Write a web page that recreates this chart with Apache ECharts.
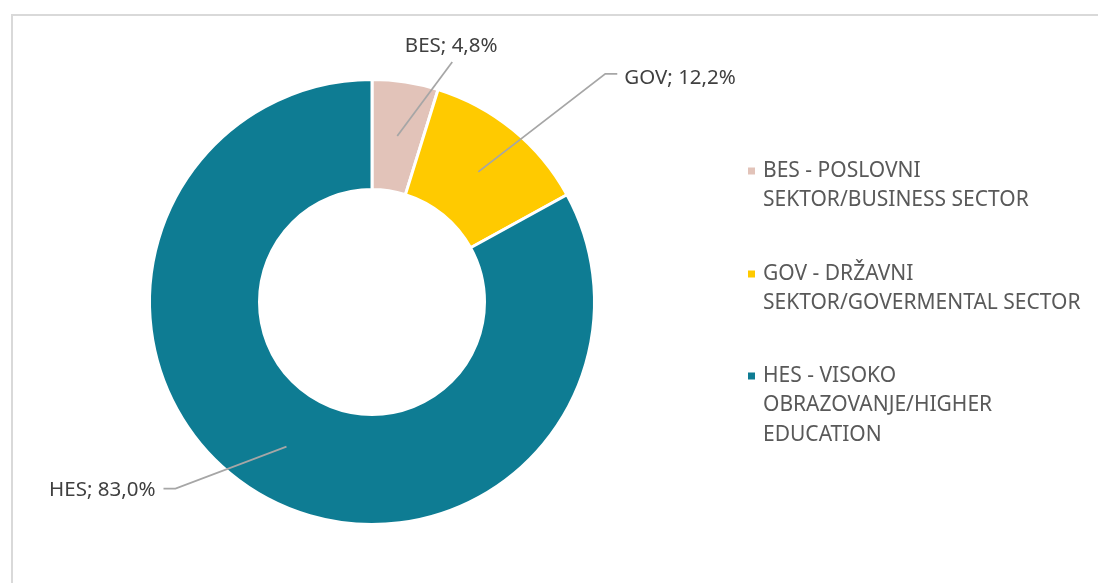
<!DOCTYPE html>
<html><head><meta charset="utf-8">
<script src="https://cdn.jsdelivr.net/npm/echarts@6/dist/echarts.min.js"></script>
<style>html,body{margin:0;padding:0;background:#fff}#c{width:1098px;height:583px}</style>
</head><body><div id="c"></div>
<script>
// ---- data ----
const categories = ['BES', 'GOV', 'HES'];
const legendNames = [
  'BES - POSLOVNI SEKTOR/BUSINESS SECTOR',
  'GOV - DRŽAVNI SEKTOR/GOVERMENTAL SECTOR',
  'HES - VISOKO OBRAZOVANJE/HIGHER EDUCATION'
];
const legendLines = [
  ['BES - POSLOVNI', 'SEKTOR/BUSINESS SECTOR'],
  ['GOV - DRŽAVNI', 'SEKTOR/GOVERMENTAL SECTOR'],
  ['HES - VISOKO', 'OBRAZOVANJE/HIGHER', 'EDUCATION']
];
const shares = [4.8, 12.2, 83.0];
const colors = ['#E2C3B9', '#FFCA00', '#0E7C93'];

// ---- layout / style ----
const FONT = 'Noto Sans';
const FS = 20.5;
const LEG_FS = 21;
const LH = 29.5;
const CENTER = [372, 302];
// label placement relative to the label-line start point computed by ECharts
const LABEL_PLACE = [
  { dx: 54, dy: -90, align: 'center', p1: [55, -74], p2: [55, -74] },
  { dx: 146, dy: -94, align: 'left', p1: [127, -98], p2: [139, -98] },
  { dx: -131, dy: 44, align: 'right', p1: [-111, 42], p2: [-123, 42] }
];
const LEGEND_ICON_Y = [171, 274, 376];

const chart = echarts.init(document.getElementById('c'), null, { renderer: 'canvas' });

const fmtPct = v => v.toFixed(1).replace('.', ',') + '%';

const donutData = legendNames.map((n, i) => ({ name: n, value: shares[i], itemStyle: { color: colors[i] } }));
const labelData = legendNames.map((n, i) => ({ name: n, value: shares[i] }));

const legends = legendNames.map((n, i) => {
  const nl = legendLines[i].length;
  const H = (2 * nl - 1) * LH;
  return {
    data: [n],
    orient: 'vertical',
    left: 746,
    top: LEGEND_ICON_Y[i] - H / 2,
    padding: 0,
    icon: 'rect',
    itemWidth: 9,
    itemHeight: 9,
    itemGap: 0,
    selectedMode: false,
    // blank lines above so the first text line is centred on the legend icon
    formatter: name => {
      const lines = legendLines[legendNames.indexOf(name)];
      return new Array(lines.length - 1).fill(' ').concat(lines).join('\n');
    },
    textStyle: {
      fontFamily: FONT, fontSize: LEG_FS, color: '#595959', lineHeight: LH,
      padding: [0, 0, 0, 2]
    }
  };
});

chart.setOption({
  animation: false,
  backgroundColor: '#fff',
  graphic: [{
    type: 'rect', silent: true, z: -10,
    shape: { x: 12, y: 15, width: 1300, height: 800 },
    style: { fill: 'none', stroke: '#D9D9D9', lineWidth: 2 }
  }],
  legend: legends,
  series: [
    {
      type: 'pie',
      center: CENTER,
      radius: [112.5, 222.5],
      startAngle: 90,
      clockwise: true,
      silent: true,
      avoidLabelOverlap: false,
      label: { show: false },
      labelLine: { show: false },
      emphasis: { disabled: true },
      itemStyle: { borderColor: '#fff', borderWidth: 3 },
      data: donutData
    },
    {
      type: 'pie',
      center: CENTER,
      radius: [0, 168],
      startAngle: 90,
      clockwise: true,
      silent: true,
      z: 5,
      avoidLabelOverlap: false,
      emphasis: { disabled: true },
      itemStyle: { color: 'rgba(0,0,0,0)', borderWidth: 0 },
      label: {
        show: true,
        position: 'outside',
        fontFamily: FONT, fontSize: FS, color: '#404040',
        formatter: p => categories[p.dataIndex] + '; ' + fmtPct(shares[p.dataIndex])
      },
      labelLine: {
        show: true, length: 10, length2: 10, smooth: false,
        lineStyle: { color: '#A6A6A6', width: 1.75 }
      },
      labelLayout: function (params) {
        if (params.seriesIndex !== 1 || !params.labelLinePoints) return {};
        const cfg = LABEL_PLACE[params.dataIndex];
        const p0 = params.labelLinePoints[0];
        return {
          x: p0[0] + cfg.dx,
          y: p0[1] + cfg.dy,
          align: cfg.align,
          verticalAlign: 'middle',
          labelLinePoints: [
            [p0[0], p0[1]],
            [p0[0] + cfg.p1[0], p0[1] + cfg.p1[1]],
            [p0[0] + cfg.p2[0], p0[1] + cfg.p2[1]]
          ]
        };
      },
      data: labelData
    }
  ]
});
</script>
</body></html>
